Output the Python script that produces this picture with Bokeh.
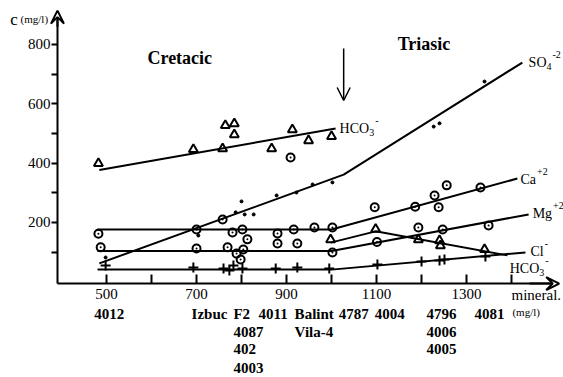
from bokeh.plotting import figure
from bokeh.models import Label, Arrow, VeeHead, OpenHead, FixedTicker, Range1d
from bokeh.embed import file_html
from bokeh.resources import INLINE

# ---------------- data (mineralization mg/l vs concentration mg/l) ----------------
hco3_cret_x = [482, 693, 758, 764, 784, 784, 867, 913, 949, 1000]
hco3_cret_y = [399, 446, 449, 527, 533, 496, 449, 513, 476, 490]
hco3_tri_x = [998, 1098, 1193, 1240, 1242, 1340]
hco3_tri_y = [142, 177, 142, 139, 122, 109]

circ_x = [482, 487, 700, 700, 758, 780, 802, 813, 880, 916, 962, 769, 789, 804, 798, 880, 924, 909,
          1002, 1096, 1186, 1229, 1256, 1238, 1331, 1002, 1101, 1193, 1247, 1349]
circ_y = [162, 116, 176, 112, 210, 166, 176, 143, 163, 176, 183, 116, 95, 109, 75, 129, 129, 419,
          183, 251, 253, 291, 325, 251, 318, 99, 134, 183, 176, 190]

plus_x = [498, 693, 760, 773, 782, 802, 876, 924, 995, 1102, 1200, 1240, 1251, 1342]
plus_y = [55, 48, 45, 38, 55, 45, 45, 48, 45, 58, 68, 72, 75, 85]

dot_x = [498, 704, 800, 787, 807, 827, 878, 922, 958, 1002, 1227, 1240, 1340]
dot_y = [82, 156, 271, 234, 227, 227, 291, 301, 328, 335, 523, 534, 675]

# trend lines
hco3_up_lx = [484, 1009]
hco3_up_ly = [377, 517]
so4_lx = [484, 1027, 1424]
so4_ly = [62, 361, 739]
ca_lx = [480, 1000, 1413]
ca_ly = [176, 176, 348]
mg_lx = [480, 1000, 1438]
mg_ly = [104, 104, 227]
cl_lx = [480, 1000, 1431]
cl_ly = [41, 41, 99]
hco3_lo_lx = [998, 1098, 1391]
hco3_lo_ly = [132, 170, 89]

x_ticks = [500, 600, 700, 800, 900, 1000, 1100, 1200, 1300, 1400]
x_tick_labels = ["500", "", "700", "", "900", "", "1100", "", "1300", ""]
y_ticks = [100, 200, 300, 400, 500, 600, 700, 800]
y_tick_labels = ["", "200", "", "400", "", "600", "", "800"]

sample_names = ["4012", "Izbuc", "F2", "4011", "Balint", "4787", "4004", "4796", "4081",
                "4087", "Vila-4", "4006", "402", "4005", "4003"]
sample_x = [473, 689, 782, 838, 918, 1016, 1096, 1211, 1318,
            782, 918, 1211, 782, 1211, 782]
sample_row = [0, 0, 0, 0, 0, 0, 0, 0, 0, 1, 1, 1, 2, 2, 3]

# ---------------- figure ----------------
FONT = "'Liberation Serif', 'Times New Roman', serif"
W, H = 563, 377
X0, X1 = 264.4, 1515.5
Y0, Y1 = -322.6, 948.1
AX_X, AX_Y = 391, -6          # where the axes cross
px_y = (Y1 - Y0) / H          # data units per pixel (y)

p = figure(width=W, height=H, x_range=Range1d(X0, X1), y_range=Range1d(Y0, Y1),
           output_backend="svg", toolbar_location=None,
           min_border_left=0, min_border_right=0, min_border_top=0, min_border_bottom=0)
p.outline_line_color = None
p.grid.visible = False
p.background_fill_color = "white"
p.border_fill_color = "white"

p.xaxis.fixed_location = AX_Y
p.yaxis.fixed_location = AX_X
p.xaxis.bounds = (AX_X, 1500)
p.yaxis.bounds = (AX_Y, 905)

for ax in (p.xaxis, p.yaxis):
    ax.axis_line_width = 2
    ax.major_tick_line_width = 2
    ax.minor_tick_line_color = None
    ax.major_label_text_font = FONT
    ax.major_label_text_font_size = "15px"
    ax.major_label_text_color = "black"

p.xaxis.ticker = FixedTicker(ticks=x_ticks)
p.xaxis.major_label_overrides = {t: l for t, l in zip(x_ticks, x_tick_labels)}
p.xaxis.major_tick_in = 9
p.xaxis.major_tick_out = 0
p.xaxis.major_label_standoff = 5

p.yaxis.ticker = FixedTicker(ticks=y_ticks)
p.yaxis.major_label_overrides = {t: l for t, l in zip(y_ticks, y_tick_labels)}
p.yaxis.major_tick_in = 0
p.yaxis.major_tick_out = 6
p.yaxis.major_label_standoff = 1

# axis arrows
p.add_layout(Arrow(end=VeeHead(size=13, fill_color="white", line_color="black", line_width=2),
                   x_start=1440, y_start=AX_Y, x_end=1506, y_end=AX_Y, line_width=2))
p.add_layout(Arrow(end=VeeHead(size=13, fill_color="white", line_color="black", line_width=2),
                   x_start=AX_X, y_start=860, x_end=AX_X, y_end=914, line_width=2))
# boundary arrow
p.add_layout(Arrow(end=OpenHead(size=13, line_width=1.5), x_start=1027, y_start=786,
                   x_end=1027, y_end=611, line_width=1.5))

# trend lines
for lx, ly in [(hco3_up_lx, hco3_up_ly), (so4_lx, so4_ly), (ca_lx, ca_ly), (mg_lx, mg_ly),
               (cl_lx, cl_ly), (hco3_lo_lx, hco3_lo_ly)]:
    p.line(lx, ly, line_color="black", line_width=2)

# points
p.scatter(hco3_cret_x, hco3_cret_y, marker="triangle", size=9, fill_color=None,
          line_color="black", line_width=2)
p.scatter(hco3_tri_x, hco3_tri_y, marker="triangle", size=9, fill_color=None,
          line_color="black", line_width=2)
p.scatter(circ_x, circ_y, marker="circle_dot", size=8, fill_color=None,
          line_color="black", line_width=2)
p.scatter(plus_x, plus_y, marker="cross", size=10, line_color="black", line_width=2)
p.scatter(dot_x, dot_y, marker="circle", size=3, fill_color="black", line_color="black")

# text helpers
TW = {'H': 722, 'C': 667, 'O': 722, 'S': 556, 'a': 444, 'M': 889, 'g': 500, 'l': 278}


def tw(s, size):
    return sum(TW.get(c, 500) for c in s) * size / 1000.0


def txt(x, y, s, size="15px", style="normal", x_offset=0, baseline="middle"):
    p.add_layout(Label(x=x, y=y, text=s, text_font=FONT, text_font_size=size,
                       text_font_style=style, text_baseline=baseline, text_align="left",
                       text_color="black", x_offset=x_offset))


def chem(x, y, base, sub="", sup=""):
    txt(x, y, base, "14px")
    bw = tw(base, 14)
    if sub:
        txt(x, y - 4 * px_y, sub, "10px", x_offset=bw)
        bw += 5
    if sup:
        txt(x, y + 8 * px_y, sup, "10px", x_offset=bw + 1)


chem(1018, 517, "HCO", "3", "-")
chem(1438, 739, "SO", "4", "-2")
chem(1420, 345, "Ca", "", "+2")
chem(1447, 230, "Mg", "", "+2")
chem(1442, 101, "Cl", "", "-")
chem(1396, 45, "HCO", "3", "-")

txt(591, 755, "Cretacic", "18px", "bold")
txt(1147, 803, "Triasic", "18px", "bold")

# axis titles
txt(286, 884, "c", "17px", baseline="alphabetic")
txt(309, 887, "(mg/l)", "11px", baseline="alphabetic")
txt(1400, -46, "mineral.", "15px")
txt(1402, -101, "(mg/l)", "11px")

# sample names under the x axis
row_y = [-107, -168, -228, -289]
for name, sx, r in zip(sample_names, sample_x, sample_row):
    txt(sx, row_y[r], name, "15px", "bold")

open("out.html", "w").write(file_html(p, INLINE))
